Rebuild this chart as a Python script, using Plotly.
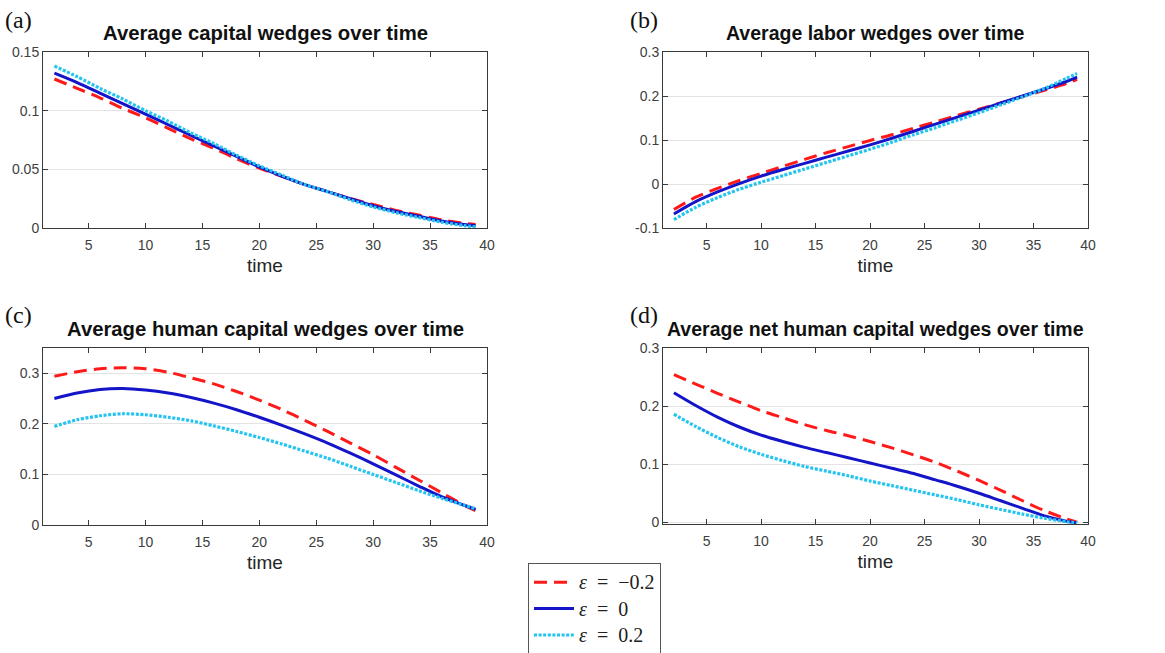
import plotly.graph_objects as go

time = [2, 4, 6, 8, 10, 12, 14, 16, 18, 20, 22, 24, 26, 28, 30, 32, 34, 36, 38, 39]

# (a) capital wedges
cap_m02 = [0.127, 0.119, 0.111, 0.102, 0.094, 0.085, 0.076, 0.068, 0.059, 0.051, 0.044, 0.037, 0.031, 0.025, 0.020, 0.015, 0.011, 0.007, 0.004, 0.003]
cap_0 = [0.132, 0.124, 0.115, 0.106, 0.097, 0.088, 0.079, 0.070, 0.061, 0.052, 0.044, 0.037, 0.031, 0.025, 0.019, 0.014, 0.010, 0.006, 0.003, 0.002]
cap_p02 = [0.138, 0.129, 0.119, 0.110, 0.100, 0.091, 0.081, 0.072, 0.062, 0.053, 0.045, 0.037, 0.031, 0.024, 0.018, 0.013, 0.009, 0.005, 0.002, 0.001]

# (b) labor wedges
lab_m02 = [-0.058, -0.030, -0.010, 0.008, 0.024, 0.040, 0.056, 0.071, 0.085, 0.099, 0.112, 0.127, 0.141, 0.156, 0.170, 0.184, 0.199, 0.213, 0.228, 0.238]
lab_0 = [-0.068, -0.040, -0.018, 0.001, 0.018, 0.033, 0.047, 0.061, 0.075, 0.089, 0.104, 0.120, 0.136, 0.152, 0.168, 0.184, 0.200, 0.216, 0.233, 0.243]
lab_p02 = [-0.081, -0.053, -0.031, -0.012, 0.004, 0.019, 0.034, 0.049, 0.064, 0.079, 0.095, 0.112, 0.128, 0.145, 0.162, 0.180, 0.198, 0.217, 0.240, 0.251]

# (c) human capital wedges
hum_m02 = [0.294, 0.303, 0.309, 0.311, 0.309, 0.302, 0.291, 0.279, 0.264, 0.247, 0.228, 0.207, 0.185, 0.162, 0.139, 0.114, 0.089, 0.064, 0.039, 0.028]
hum_0 = [0.250, 0.261, 0.268, 0.270, 0.267, 0.261, 0.252, 0.241, 0.228, 0.213, 0.197, 0.180, 0.162, 0.142, 0.121, 0.099, 0.077, 0.056, 0.039, 0.031]
hum_p02 = [0.195, 0.208, 0.216, 0.220, 0.218, 0.213, 0.206, 0.196, 0.185, 0.173, 0.160, 0.146, 0.132, 0.116, 0.100, 0.084, 0.068, 0.053, 0.039, 0.032]

# (d) net human capital wedges
net_m02 = [0.254, 0.238, 0.222, 0.207, 0.192, 0.180, 0.168, 0.158, 0.149, 0.139, 0.128, 0.116, 0.103, 0.088, 0.072, 0.055, 0.037, 0.020, 0.006, 0.000]
net_0 = [0.223, 0.201, 0.181, 0.164, 0.150, 0.139, 0.129, 0.120, 0.111, 0.102, 0.093, 0.084, 0.073, 0.062, 0.050, 0.037, 0.024, 0.011, 0.002, -0.001]
net_p02 = [0.186, 0.165, 0.146, 0.130, 0.117, 0.106, 0.096, 0.088, 0.080, 0.071, 0.063, 0.055, 0.047, 0.039, 0.030, 0.022, 0.014, 0.007, 0.001, -0.001]

titles = ["Average capital wedges over time", "Average labor wedges over time",
          "Average human capital wedges over time", "Average net human capital wedges over time"]
panel_labels = ["(a)", "(b)", "(c)", "(d)"]
series_labels = ["−0.2", "0", "0.2"]
series_names = ['<span style="font-size:20px"><i>ε</i>\u2002=\u2002' + s + "</span>" for s in series_labels]

x_ticks = [5, 10, 15, 20, 25, 30, 35, 40]
y_ticks = [
    ([0, 0.05, 0.1, 0.15], ["0", "0.05", "0.1", "0.15"]),
    ([-0.1, 0, 0.1, 0.2, 0.3], ["-0.1", "0", "0.1", "0.2", "0.3"]),
    ([0, 0.1, 0.2, 0.3], ["0", "0.1", "0.2", "0.3"]),
    ([0, 0.1, 0.2, 0.3], ["0", "0.1", "0.2", "0.3"]),
]
y_ranges = [[0, 0.15], [-0.1, 0.3], [0, 0.35], [-0.003, 0.3]]

data = [
    (cap_m02, cap_0, cap_p02),
    (lab_m02, lab_0, lab_p02),
    (hum_m02, hum_0, hum_p02),
    (net_m02, net_0, net_p02),
]

W, H = 1165, 653
px_boxes = [  # left, right, top, bottom in pixels
    (43, 487, 52, 228),
    (663, 1088, 52, 228),
    (43, 487, 348, 525),
    (663, 1088, 348, 524),
]
title_sizes = [20.3, 19.5, 20.3, 19.5]

colors = ["#ff1a1a", "#1414c8", "#22c4f0"]
dashes = ["13px,7px", "solid", "3px,1.6px"]
widths = [3, 3, 3.2]

fig = go.Figure()
axis_color = "#3a3a3a"
tick_font = dict(family="Liberation Sans, Arial", size=14, color="#404040")

for i in range(4):
    l, r, t, b = px_boxes[i]
    sfx = "" if i == 0 else str(i + 1)
    for j in range(3):
        fig.add_trace(go.Scatter(
            x=time, y=data[i][j], mode="lines", name=series_names[j],
            line=dict(color=colors[j], dash=dashes[j], width=widths[j], shape="spline", smoothing=0.8),
            xaxis="x" + sfx, yaxis="y" + sfx, showlegend=(i == 0),
        ))
    fig.update_layout(**{
        "xaxis" + sfx: dict(domain=[l / W, r / W], range=[1, 40], anchor="y" + sfx,
                            tickvals=x_ticks, ticks="inside", ticklen=5, tickcolor=axis_color,
                            showline=True, linecolor=axis_color, linewidth=1, mirror="ticks",
                            showgrid=False, zeroline=False, tickfont=tick_font, automargin=False,
                            ticklabelstandoff=4,
                            title=dict(text="time", font=dict(family="Liberation Sans, Arial", size=19, color="#262626"), standoff=6)),
        "yaxis" + sfx: dict(domain=[1 - b / H, 1 - t / H], range=y_ranges[i], anchor="x" + sfx,
                            tickvals=y_ticks[i][0], ticktext=y_ticks[i][1], ticks="inside", ticklen=5,
                            tickcolor=axis_color, showline=True, linecolor=axis_color, linewidth=1,
                            mirror="ticks", showgrid=True, gridcolor="#e3e3e3", gridwidth=1,
                            zeroline=False, tickfont=tick_font, automargin=False),
    })
    fig.add_annotation(text="<b>" + titles[i] + "</b>", xref="paper", yref="paper",
                       x=(l + r) / 2 / W, y=1 - (t - 19) / H, showarrow=False,
                       font=dict(family="Liberation Sans, Arial", size=title_sizes[i], color="#111111"),
                       xanchor="center", yanchor="middle")

label_pos = [(3, 20), (628, 20), (3, 315), (628, 315)]
for i in range(4):
    fig.add_annotation(text=panel_labels[i], xref="paper", yref="paper",
                       x=label_pos[i][0] / W, y=1 - label_pos[i][1] / H, showarrow=False,
                       font=dict(family="Liberation Serif, Times New Roman", size=24, color="#111111"),
                       xanchor="left", yanchor="middle")

fig.update_layout(
    width=W, height=H, margin=dict(l=0, r=0, t=0, b=0, autoexpand=False),
    paper_bgcolor="white", plot_bgcolor="white",
    legend=dict(x=528 / W, y=1 - 563 / H, xanchor="left", yanchor="top",
                bordercolor="#555555", borderwidth=1, bgcolor="white",
                font=dict(family="Liberation Serif, Times New Roman", size=18, color="#222222"),
                itemwidth=40, tracegroupgap=0),
)

fig.write_html("out.html", config={"displayModeBar": False},
               post_script="document.body.style.margin='0';")
